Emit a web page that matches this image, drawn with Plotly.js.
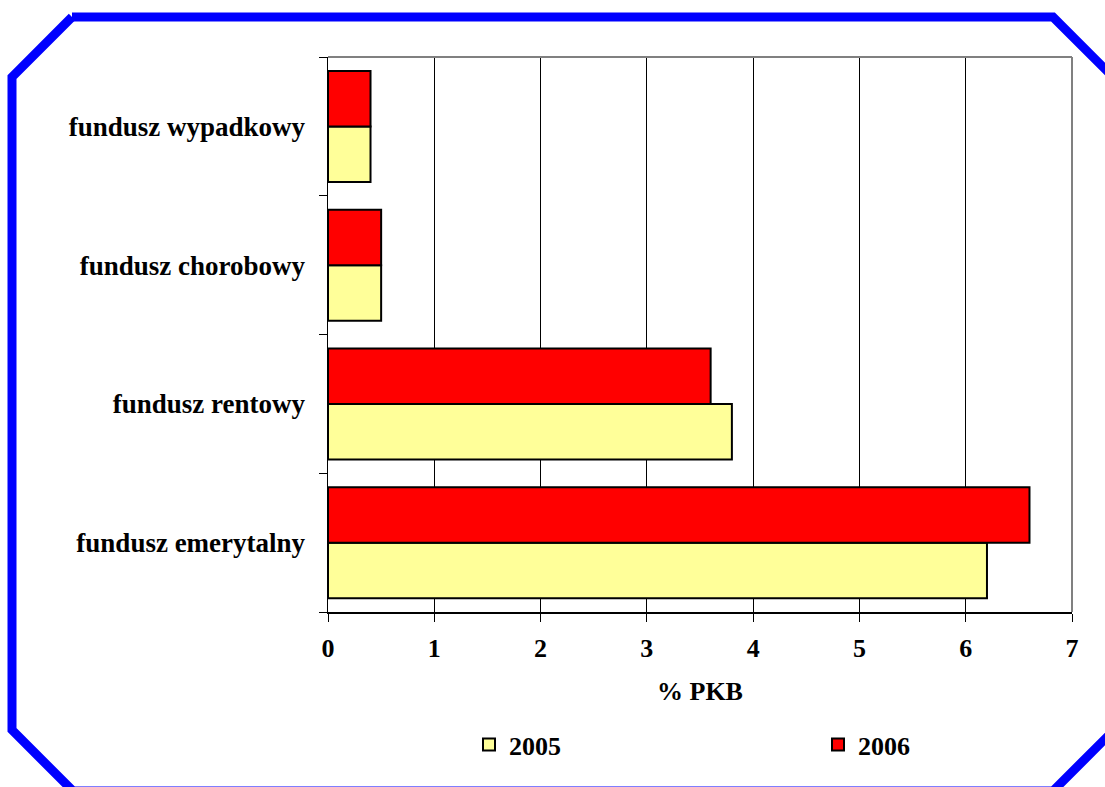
<!DOCTYPE html>
<html>
<head>
<meta charset="utf-8">
<script src="https://cdn.plot.ly/plotly-3.0.1.min.js"></script>
<style>html,body{margin:0;padding:0;background:#fff;}#chart{width:1105px;height:787px;}</style>
</head>
<body>
<div id="chart"></div>
<script>
const categories = ['fundusz emerytalny', 'fundusz rentowy', 'fundusz chorobowy', 'fundusz wypadkowy'];
const values2005 = [6.2, 3.8, 0.5, 0.4];
const values2006 = [6.6, 3.6, 0.5, 0.4];
const seriesNames = ['2005', '2006'];
const xTicks = [0, 1, 2, 3, 4, 5, 6, 7];

const W = 1105, H = 787;
const M = {l: 328, r: 33, t: 57, b: 175, autoexpand: false};
const pw = W - M.l - M.r, ph = H - M.t - M.b;
const px = x => (x - M.l) / pw;
const py = y => 1 - (y - M.t) / ph;
function path(pts) {
  return pts.map((p, i) => (i ? 'L' : 'M') + px(p[0]).toFixed(5) + ',' + py(p[1]).toFixed(5)).join(' ');
}

const font = {family: '"Liberation Serif", "Times New Roman", serif', color: '#000', weight: 'bold'};
const f26 = Object.assign({}, font, {size: 26});
const f27 = Object.assign({}, font, {size: 27});

const data = [
  {type: 'bar', orientation: 'h', name: seriesNames[0], y: categories, x: values2005, legend: 'legend',
   marker: {color: '#FFFF99', line: {color: '#000', width: 2}}},
  {type: 'bar', orientation: 'h', name: seriesNames[1], y: categories, x: values2006, legend: 'legend2',
   marker: {color: '#FF0000', line: {color: '#000', width: 2}}}
];

const frame = [[72, 17], [1053, 17], [1125, 89]];
const frameL = [[72, 17], [12, 77], [12, 730], [73, 791], [1053, 791], [1125, 719]];

function legendAt(xpx) {
  return {orientation: 'h', xref: 'container', yref: 'container',
    x: xpx / W, xanchor: 'left', y: 1 - 721 / H, yanchor: 'top',
    font: f26, bgcolor: 'rgba(0,0,0,0)', borderwidth: 0};
}

const layout = {
  width: W, height: H,
  margin: M,
  paper_bgcolor: '#fff', plot_bgcolor: '#fff',
  barmode: 'group', bargap: 0.2, bargroupgap: 0,
  showlegend: true,
  legend: legendAt(469),
  legend2: legendAt(818),
  xaxis: {range: [0, 7], tickvals: xTicks, ticktext: xTicks.map(String),
    showgrid: true, gridcolor: '#000', gridwidth: 1, zeroline: false,
    showline: true, linecolor: '#000', linewidth: 1.5,
    ticks: 'outside', ticklen: 8, tickcolor: '#000', tickwidth: 1,
    ticklabelstandoff: 4,
    tickfont: f26,
    title: {text: '% PKB', font: f26, standoff: 20}},
  yaxis: {type: 'category', categoryorder: 'array', categoryarray: categories,
    showgrid: false, zeroline: false, showline: true, linecolor: '#000', linewidth: 1.5,
    ticks: 'outside', tickson: 'boundaries', ticklen: 8, tickcolor: '#000', tickwidth: 1,
    ticklabelstandoff: 16,
    tickfont: f27},
  shapes: [
    {type: 'line', xref: 'paper', yref: 'paper', x0: 0, x1: 1, y0: 1, y1: 1, line: {color: '#808080', width: 2}},
    {type: 'line', xref: 'paper', yref: 'paper', x0: 1, x1: 1, y0: 0, y1: 1, line: {color: '#808080', width: 2}},
    {type: 'path', xref: 'paper', yref: 'paper', path: path(frame), line: {color: '#0000FF', width: 9}},
    {type: 'path', xref: 'paper', yref: 'paper', path: path(frameL), line: {color: '#0000FF', width: 9}}
  ]
};

Plotly.newPlot('chart', data, layout, {displayModeBar: false, staticPlot: true});
</script>
</body>
</html>
